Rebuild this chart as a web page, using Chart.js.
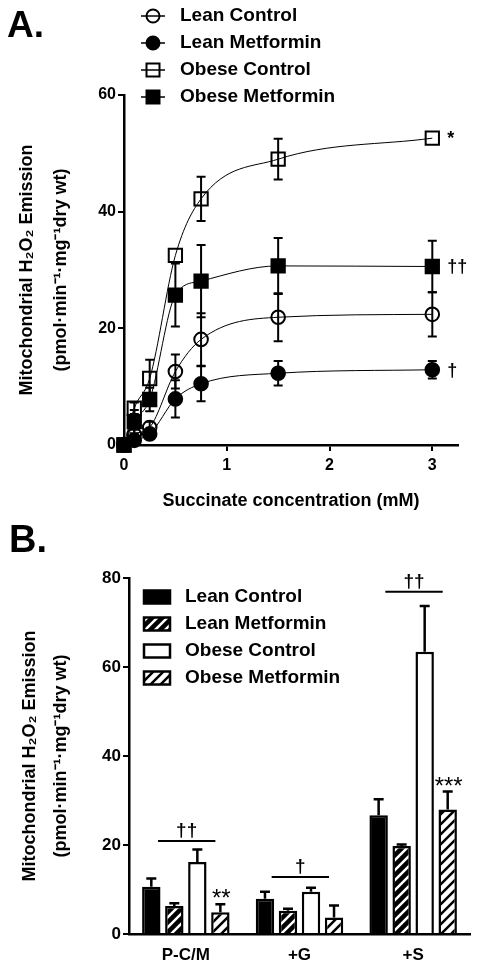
<!DOCTYPE html>
<html>
<head>
<meta charset="utf-8">
<script src="https://cdn.jsdelivr.net/npm/chart.js@4"></script>
<style>
body { margin: 0; background: #fff; }
canvas { position: absolute; left: 0; }
#chartA { top: 0; }
#chartB { top: 525px; }
</style>
</head>
<body>
<canvas id="chartA" width="480" height="525"></canvas>
<canvas id="chartB" width="480" height="441"></canvas>
<script>
let seriesNames = ['Lean Control', 'Lean Metformin', 'Obese Control', 'Obese Metformin'];

// panel A: succinate titration
let succinate = [0, 0.1, 0.25, 0.5, 0.75, 1.5, 3];
let xTicksA = [0, 1, 2, 3];
let leanControlA = [0, 1.8, 3.0, 12.6, 18.1, 21.9, 22.4];
let leanControlAErr = [0, 0.8, 1.0, 2.9, 4.5, 4.1, 3.8];
let leanMetA = [0, 0.8, 1.9, 7.9, 10.5, 12.3, 12.9];
let leanMetAErr = [0, 0.5, 0.8, 3.2, 3.0, 2.1, 1.5];
let obeseControlA = [0, 6.3, 11.4, 32.5, 42.2, 49.0, 52.6];
let obeseControlAErr = [0, 1.0, 3.2, 0, 3.8, 3.5, 0];
let obeseMetA = [0, 4.0, 7.8, 25.7, 28.1, 30.7, 30.6];
let obeseMetAErr = [0, 2.0, 2.0, 5.4, 6.2, 4.8, 4.4];
let endMarksA = ['', '†', '*', '††'];

// panel B: substrates
let conditions = ['P-C/M', '+G', '+S'];
let leanControlB = [10.6, 7.9, 26.7];
let leanControlBErr = [1.9, 1.6, 3.6];
let leanMetB = [6.3, 5.2, 19.8];
let leanMetBErr = [0.6, 0.5, 0.3];
let obeseControlB = [16.2, 9.5, 63.4];
let obeseControlBErr = [2.8, 0.9, 10.3];
let obeseMetB = [4.9, 3.7, 28.0];
let obeseMetBErr = [1.8, 2.7, 4.0];
let bracketLevels = [20.9, 12.8, 76.9];
let bracketMarks = ['††', '†', '††'];
let starMarks = ['**', '', '***'];

let fontFam = '"Liberation Sans", Arial, sans-serif';
Chart.defaults.font.family = fontFam;
Chart.defaults.color = '#000';
Chart.defaults.animation = false;

let yTitle = ['Mitochondrial H\u2082O\u2082 Emission', '(pmol\u00b7min\u207b\u00b9\u00b7mg\u207b\u00b9dry wt)'];

function makeHatch(bg, fg) {
	let c = document.createElement('canvas');
	c.width = 10; c.height = 10;
	let g = c.getContext('2d');
	g.fillStyle = bg;
	g.fillRect(0, 0, 10, 10);
	g.strokeStyle = fg;
	g.lineWidth = 2.5;
	g.beginPath();
	g.moveTo(0, 10); g.lineTo(10, 0);
	g.moveTo(-5, 5); g.lineTo(5, -5);
	g.moveTo(5, 15); g.lineTo(15, 5);
	g.stroke();
	return g.createPattern(c, 'repeat');
}

// error bars drawn from each dataset's errors array
const errorBars = {
	id: 'errorBars',
	beforeDatasetsDraw(chart, args, opts) { if (!opts.onTop) drawErrors(chart, opts); },
	afterDatasetsDraw(chart, args, opts) { if (opts.onTop) drawErrors(chart, opts); }
};
function drawErrors(chart, opts) {
	let ctx = chart.ctx;
	let y = chart.scales.y;
	ctx.save();
	ctx.strokeStyle = '#000';
	ctx.lineWidth = opts.width;
	chart.data.datasets.forEach((ds, d) => {
		let meta = chart.getDatasetMeta(d);
		ds.errors.forEach((e, i) => {
			if (!e) return;
			let px = meta.data[i].x;
			let v = ds.values ? ds.values[i] : ds.data[i];
			let top = y.getPixelForValue(v + e);
			let bot = opts.upOnly ? y.getPixelForValue(v) : y.getPixelForValue(v - e);
			ctx.beginPath();
			ctx.moveTo(px, bot); ctx.lineTo(px, top);
			ctx.moveTo(px - opts.cap, top); ctx.lineTo(px + opts.cap, top);
			if (!opts.upOnly) { ctx.moveTo(px - opts.cap, bot); ctx.lineTo(px + opts.cap, bot); }
			ctx.stroke();
		});
	});
	ctx.restore();
}

const panelA = {
	id: 'panelA',
	afterDraw(chart) {
		let ctx = chart.ctx;
		ctx.save();
		ctx.fillStyle = '#000';
		ctx.font = 'bold 37px ' + fontFam;
		ctx.textBaseline = 'alphabetic';
		ctx.fillText('A.', 7, 37);
		// legend
		ctx.font = 'bold 19px ' + fontFam;
		ctx.textBaseline = 'middle';
		chart.data.datasets.forEach((ds, i) => {
			let ly = 16 + i * 27;
			ctx.strokeStyle = '#000';
			ctx.lineWidth = 1.5;
			ctx.beginPath(); ctx.moveTo(141, ly); ctx.lineTo(165, ly); ctx.stroke();
			ctx.lineWidth = 2;
			ctx.beginPath();
			if (ds.pointStyle === 'circle') ctx.arc(153, ly, 6.5, 0, Math.PI * 2);
			else ctx.rect(146.5, ly - 6.5, 13, 13);
			if (ds.pointBackgroundColor === '#000') { ctx.fillStyle = '#000'; ctx.fill(); }
			ctx.stroke();
			ctx.fillStyle = '#000';
			ctx.fillText(ds.label, 180, ly);
		});
		// significance marks beside last points
		ctx.font = 'bold 18px ' + fontFam;
		chart.data.datasets.forEach((ds, i) => {
			let pts = chart.getDatasetMeta(i).data;
			let last = pts[pts.length - 1];
			ctx.fillText(endMarksA[i], last.x + 15, last.y + 1);
		});
		ctx.restore();
	}
};

const panelB = {
	id: 'panelB',
	afterDraw(chart) {
		let ctx = chart.ctx;
		let x = chart.scales.x, y = chart.scales.y;
		let catW = x.width / conditions.length;
		ctx.save();
		ctx.fillStyle = '#000';
		ctx.strokeStyle = '#000';
		ctx.font = 'bold 38px ' + fontFam;
		ctx.textBaseline = 'alphabetic';
		ctx.fillText('B.', 9, 27);
		// legend
		ctx.font = 'bold 19px ' + fontFam;
		ctx.textBaseline = 'middle';
		chart.data.datasets.forEach((ds, i) => {
			let ly = 72 + i * 27;
			ctx.fillStyle = ds.backgroundColor;
			ctx.fillRect(144, ly - 6.5, 26, 13);
			ctx.lineWidth = 2.5;
			ctx.strokeRect(144, ly - 6.5, 26, 13);
			ctx.fillStyle = '#000';
			ctx.fillText(ds.label, 185, ly);
		});
		// brackets with daggers
		ctx.lineWidth = 2;
		ctx.textAlign = 'center';
		ctx.textBaseline = 'alphabetic';
		bracketLevels.forEach((lv, g) => {
			let cx = x.getPixelForValue(g);
			let py = y.getPixelForValue(lv);
			let x0 = cx - 0.245 * catW, x1 = cx + 0.26 * catW;
			ctx.beginPath(); ctx.moveTo(x0, py); ctx.lineTo(x1, py); ctx.stroke();
			ctx.font = 'bold 19px ' + fontFam;
			ctx.fillText(bracketMarks[g], (x0 + x1) / 2, py - 5);
		});
		// stars over obese metformin
		let om = chart.data.datasets[3];
		let omMeta = chart.getDatasetMeta(3);
		ctx.font = '24px ' + fontFam;
		starMarks.forEach((s, g) => {
			if (!s) return;
			let top = y.getPixelForValue(om.data[g] + om.errors[g]);
			ctx.fillText(s, omMeta.data[g].x + 1, top + 2);
		});
		ctx.restore();
	}
};

let axisCommon = {
	border: { color: '#000', width: 2.5 },
	grid: { drawOnChartArea: false, color: '#000', lineWidth: 2, tickLength: 6 }
};

function lineSet(label, data, errors, style, filled) {
	return {
		label: label,
		data: data.map((v, i) => ({ x: succinate[i], y: v })),
		values: data,
		errors: errors,
		borderColor: '#000',
		borderWidth: 1,
		cubicInterpolationMode: 'monotone',
		pointStyle: style,
		pointRadius: style === 'rect' ? 9.4 : 6.8,
		pointBorderWidth: 2,
		pointBorderColor: '#000',
		pointBackgroundColor: filled ? '#000' : 'rgba(0,0,0,0)',
		clip: false
	};
}

new Chart(document.getElementById('chartA'), {
	type: 'line',
	data: {
		datasets: [
			lineSet(seriesNames[0], leanControlA, leanControlAErr, 'circle', false),
			lineSet(seriesNames[1], leanMetA, leanMetAErr, 'circle', true),
			lineSet(seriesNames[2], obeseControlA, obeseControlAErr, 'rect', false),
			lineSet(seriesNames[3], obeseMetA, obeseMetAErr, 'rect', true)
		]
	},
	options: {
		responsive: false,
		layout: { padding: { top: 95, right: 22, bottom: 13, left: 0 } },
		plugins: {
			legend: { display: false },
			tooltip: { enabled: false },
			errorBars: { width: 2, cap: 4.5, upOnly: false, onTop: false }
		},
		scales: {
			x: {
				type: 'linear', min: 0, max: 3.25,
				...axisCommon,
				afterBuildTicks: s => { s.ticks = xTicksA.map(v => ({ value: v })); },
				afterFit: s => { s.height = 67; },
				ticks: { padding: 5, font: { size: 16, weight: 'bold' } },
				title: { display: true, text: 'Succinate concentration (mM)', padding: 0, font: { size: 18, weight: 'bold' } }
			},
			y: {
				min: 0, max: 60,
				...axisCommon,
				afterFit: s => { s.width = 124; },
				ticks: { stepSize: 20, padding: 2, font: { size: 16, weight: 'bold' } },
				title: { display: true, text: yTitle, padding: { top: 10, bottom: 0 }, font: { size: 18, weight: 'bold', lineHeight: 1.9 } }
			}
		}
	},
	plugins: [errorBars, panelA]
});

let hatchDark = makeHatch('#000', '#fff');
let hatchLight = makeHatch('#fff', '#000');

function barSet(label, data, errors, fill) {
	return {
		label: label,
		data: data,
		errors: errors,
		backgroundColor: fill,
		borderColor: '#000',
		borderWidth: 2.5,
		categoryPercentage: 0.81,
		barPercentage: 0.8
	};
}

new Chart(document.getElementById('chartB'), {
	type: 'bar',
	data: {
		labels: conditions,
		datasets: [
			barSet(seriesNames[0], leanControlB, leanControlBErr, '#000'),
			barSet(seriesNames[1], leanMetB, leanMetBErr, hatchDark),
			barSet(seriesNames[2], obeseControlB, obeseControlBErr, '#fff'),
			barSet(seriesNames[3], obeseMetB, obeseMetBErr, hatchLight)
		]
	},
	options: {
		responsive: false,
		layout: { padding: { top: 53, right: 10, bottom: 0, left: 0 } },
		plugins: {
			legend: { display: false },
			tooltip: { enabled: false },
			errorBars: { width: 2.5, cap: 5, upOnly: true, onTop: true }
		},
		scales: {
			x: {
				border: { color: '#000', width: 2.5 },
				grid: { display: false },
				afterFit: s => { s.height = 32; },
				ticks: { padding: 3, font: { size: 17, weight: 'bold' } }
			},
			y: {
				min: 0, max: 80,
				...axisCommon,
				afterFit: s => { s.width = 129; },
				ticks: { stepSize: 20, padding: 2, font: { size: 17, weight: 'bold' } },
				title: { display: true, text: yTitle, padding: { top: 14, bottom: 0 }, font: { size: 18, weight: 'bold', lineHeight: 1.75 } }
			}
		}
	},
	plugins: [errorBars, panelB]
});
</script>
</body>
</html>
